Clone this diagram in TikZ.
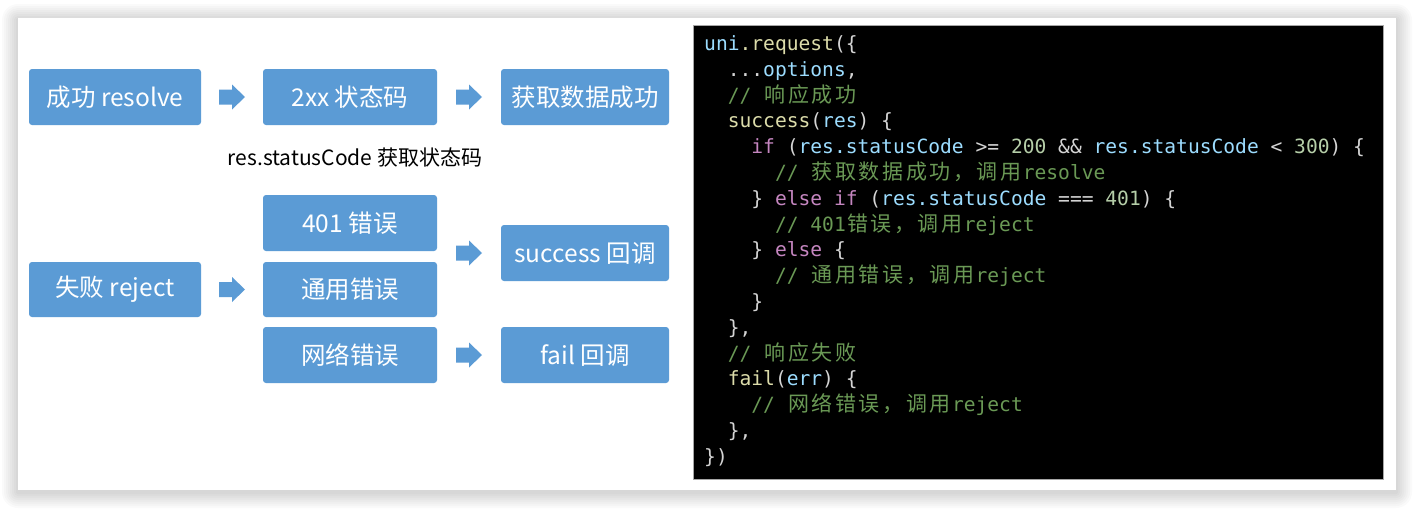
\documentclass[tikz,border=0pt]{standalone}
\usepackage{fontspec}
\newfontfamily\cjk{Noto Sans CJK SC}
\newfontfamily\codefont{DejaVu Sans Mono}
\definecolor{boxblue}{HTML}{5B9BD5}
\definecolor{cblue}{HTML}{9CDCFE}
\definecolor{cyellow}{HTML}{DCDCAA}
\definecolor{cgreen}{HTML}{6A9955}
\definecolor{cpink}{HTML}{C586C0}
\definecolor{cnum}{HTML}{B5CEA8}
\definecolor{cwhite}{HTML}{D4D4D4}
\ExplSyntaxOn
\NewDocumentCommand\cw{m}{\tl_map_inline:nn{#1}{\makebox[23.6pt]{\cjk\fontsize{21}{22}\selectfont ##1}}}
\ExplSyntaxOff
\newcommand\kb[1]{\textcolor{cblue}{#1}}
\newcommand\ky[1]{\textcolor{cyellow}{#1}}
\newcommand\kg[1]{\textcolor{cgreen}{#1}}
\newcommand\kp[1]{\textcolor{cpink}{#1}}
\newcommand\kn[1]{\textcolor{cnum}{#1}}
\newcommand\barrowat[1]{\fill[boxblue] (#1) ++(-13,-7.5) -- ++(13,0) -- ++(0,-5) -- ++(13,12.5) -- ++(-13,12.5) -- ++(0,-5) -- ++(-13,0) -- cycle;}
\tikzset{
  box/.style={fill=boxblue, rounded corners=3pt, text=white, inner sep=0pt,
    font=\cjk\fontsize{24.5}{28}\selectfont, minimum height=56pt},
  code/.style={anchor=base west, inner sep=0pt, text=cwhite,
    font=\codefont\fontsize{19.6}{24}\selectfont},
  lbl/.style={inner sep=0pt, text=black, font=\cjk\fontsize{21}{24}\selectfont}
}
\begin{document}
\begin{tikzpicture}[x=1pt,y=-1pt]
\useasboundingbox (0,0) rectangle (1414,509);
\fill[white] (0,0) rectangle (1414,509);
% card shadow
\foreach \s in {16,14,...,2}
  \fill[black,opacity=0.018,rounded corners=\s pt] (18-\s,18-\s+2) rectangle (1396+\s,490+\s+2);
\fill[white] (18,18) rectangle (1396,490);
% code block
\fill[black] (693,25) rectangle (1383,479);
\draw[gray!70,line width=0.8pt] (693,25) rectangle (1383,479);

% boxes
\node[box, minimum width=172pt] (r1) at (115,97) {成功 resolve};
\node[box, minimum width=174pt] (r2) at (350,97) {2xx 状态码};
\node[box, minimum width=168pt] (r3) at (585,97) {获取数据成功};
\node[lbl] (sc) at (355,157) {res.statusCode 获取状态码};
\node[box, minimum width=172pt, minimum height=55pt] (f1) at (115,289.5) {失败 reject};
\node[box, minimum width=174pt] (e1) at (350,223) {401 错误};
\node[box, minimum width=174pt, minimum height=55pt] (e2) at (350,289.5) {通用错误};
\node[box, minimum width=174pt] (e3) at (350,355) {网络错误};
\node[box, minimum width=168pt] (s1) at (585,253) {success 回调};
\node[box, minimum width=168pt] (s2) at (585,355) {fail 回调};
% block arrows
\coordinate (a1) at (232,97);
\coordinate (a2) at (469,97);
\coordinate (a3) at (232,289.5);
\coordinate (a4) at (469,253);
\coordinate (a5) at (469,355);
\barrowat{a1}\barrowat{a2}\barrowat{a3}\barrowat{a4}\barrowat{a5}

% code lines
\node[code] (l0) at (704,50.5) {\kb{uni}\ky{.request}(\{};
\node[code] (l1) at (727.6,76.3) {...\kb{options},};
\node[code] (l2) at (727.6,102.1) {\kg{// \cw{响应成功}}};
\node[code] (l3) at (727.6,127.9) {\ky{success}(\kb{res}) \{};
\node[code] (l4) at (751.2,153.7) {\kp{if} (\kb{res.statusCode} >= \kn{200} \&\& \kb{res.statusCode} < \kn{300}) \{};
\node[code] (l5) at (774.8,179.5) {\kg{// \cw{获取数据成功，调用}resolve}};
\node[code] (l6) at (751.2,205.3) {\} \kp{else if} (\kb{res.statusCode} === \kn{401}) \{};
\node[code] (l7) at (774.8,231.1) {\kg{// 401\cw{错误，调用}reject}};
\node[code] (l8) at (751.2,256.9) {\} \kp{else} \{};
\node[code] (l9) at (774.8,282.7) {\kg{// \cw{通用错误，调用}reject}};
\node[code] (l10) at (751.2,308.5) {\}};
\node[code] (l11) at (727.6,334.3) {\},};
\node[code] (l12) at (727.6,360.1) {\kg{// \cw{响应失败}}};
\node[code] (l13) at (727.6,385.9) {\ky{fail}(\kb{err}) \{};
\node[code] (l14) at (751.2,411.7) {\kg{// \cw{网络错误，调用}reject}};
\node[code] (l15) at (727.6,437.5) {\},};
\node[code] (l16) at (704,463.3) {\})};
\end{tikzpicture}
\end{document}
